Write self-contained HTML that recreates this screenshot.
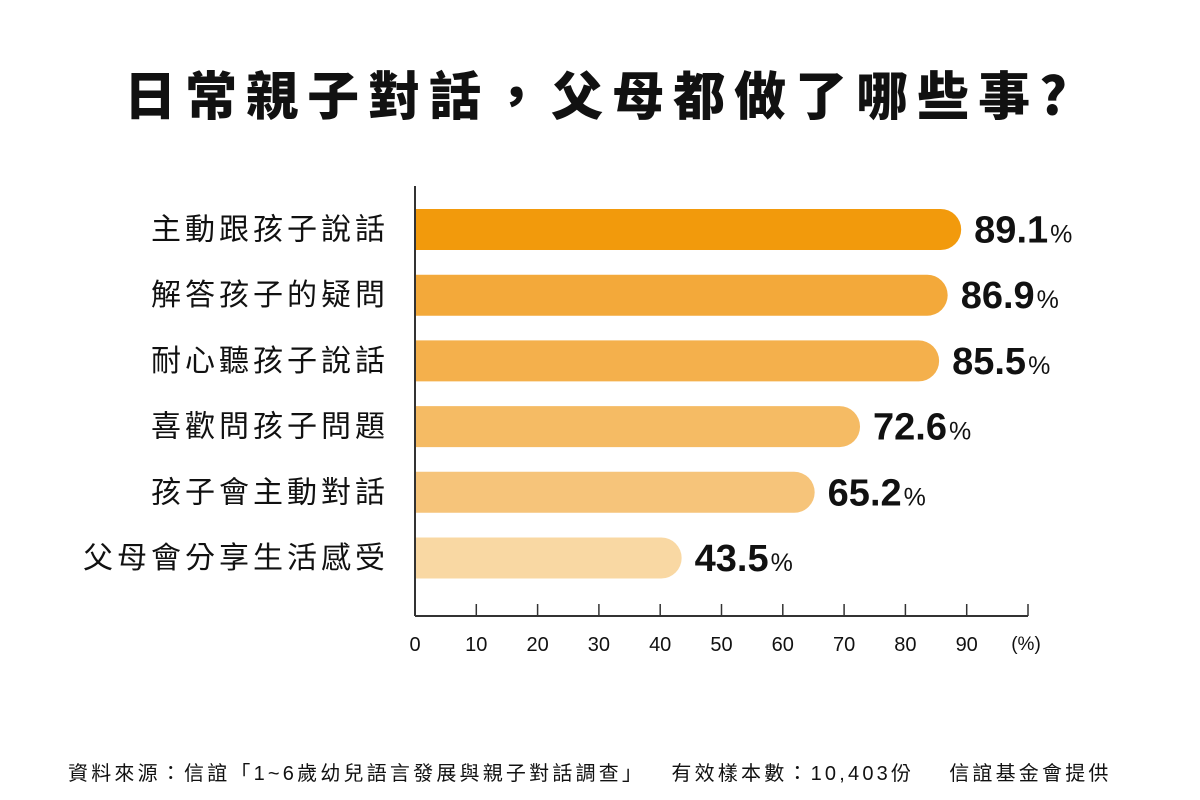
<!DOCTYPE html>
<html><head><meta charset="utf-8"><style>
body{margin:0;background:#fff;width:1200px;height:800px;overflow:hidden;font-family:"Liberation Sans","Noto Sans CJK TC",sans-serif;}
#title{position:absolute;top:62px;left:0;width:1200px;text-align:center;font-size:52px;font-weight:900;color:#111;letter-spacing:9px;font-family:"Noto Sans CJK TC",sans-serif;line-height:1.2;}
#footer{position:absolute;top:757px;left:68px;font-size:20px;color:#111;white-space:pre;letter-spacing:3.2px;font-family:"Liberation Sans","Noto Sans CJK TC",sans-serif;}
</style></head><body>
<div id="title">日常親子對話，父母都做了哪些事?</div>
<svg id="chart" width="1200" height="800" style="position:absolute;top:0;left:0"></svg>
<div id="footer">資料來源：信誼「1~6歲幼兒語言發展與親子對話調查」   有效樣本數：10,403份    信誼基金會提供</div>
<script>
const categories=["主動跟孩子說話","解答孩子的疑問","耐心聽孩子說話","喜歡問孩子問題","孩子會主動對話","父母會分享生活感受"];
const values=[89.1,86.9,85.5,72.6,65.2,43.5];
const ticks=[0,10,20,30,40,50,60,70,80,90];
const colors=["#f29a0c","#f3a93a","#f4b04c","#f5bb64","#f6c47a","#f9d8a3"];
const svg=document.getElementById('chart');
const NS="http://www.w3.org/2000/svg";
const x0=415,scale=6.13,y0=209,step=65.7,bh=41;
const xs=v=>x0+v*scale;
function mk(t,a){const e=document.createElementNS(NS,t);for(const k in a)e.setAttribute(k,a[k]);svg.appendChild(e);return e;}
categories.forEach((c,i)=>{
 const y=y0+i*step,w=xs(values[i])-x0,r=bh/2;
 const p=mk('path',{d:`M${x0},${y}H${x0+w-r}A${r},${r} 0 0 1 ${x0+w-r},${y+bh}H${x0}Z`,fill:colors[i]});
 
 
 const l=mk('text',{x:389,y:y+bh/2+10,'text-anchor':'end','font-size':30,'letter-spacing':4,fill:'#111','font-family':'"Liberation Sans","Noto Sans CJK TC",sans-serif'});
 l.textContent=c;
 
 
 const v=mk('text',{x:xs(values[i])+13,y:y+bh/2+13,'font-size':38,'font-weight':'bold',fill:'#111','font-family':'"Liberation Sans",sans-serif'});
 v.innerHTML=values[i].toFixed(1)+'<tspan font-size="25" font-weight="normal" dx="2">%</tspan>';
 
 
});
const ya=mk('line',{x1:x0,y1:186,x2:x0,y2:616,stroke:'#333','stroke-width':2});


const xa=mk('line',{x1:x0,y1:616,x2:xs(100),y2:616,stroke:'#333','stroke-width':2});


[...ticks,100].forEach(t=>{if(t>0){const tk=mk('line',{x1:xs(t),y1:604,x2:xs(t),y2:616,stroke:'#333','stroke-width':1.5});}});
ticks.forEach(t=>{const e=mk('text',{x:xs(t),y:651,'text-anchor':'middle','font-size':20,fill:'#111'});e.textContent=t;});
const u=mk('text',{x:1026,y:650,'text-anchor':'middle','font-size':19,fill:'#111'});u.textContent='(%)';


</script>
</body></html>
